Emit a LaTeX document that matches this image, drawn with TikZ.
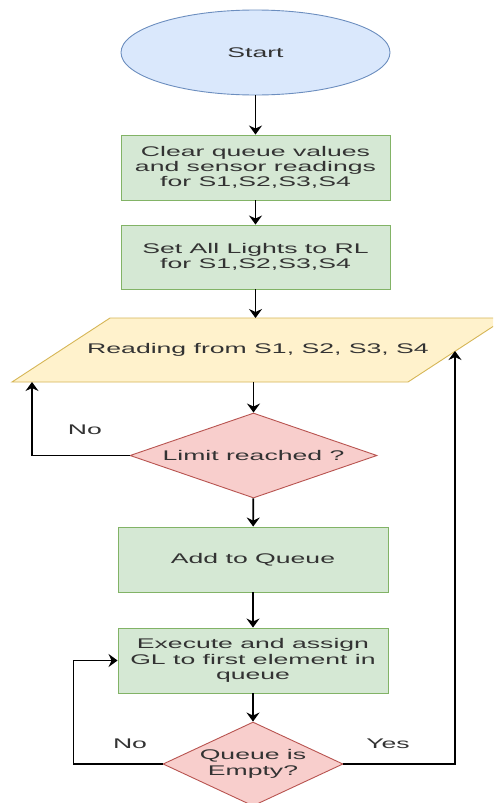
\documentclass[tikz,border=0pt]{standalone}
\usepackage{fontspec}
\setmainfont{Liberation Sans}[FakeStretch=1.9]
\usetikzlibrary{shapes.geometric,arrows.meta}
\definecolor{bluef}{HTML}{DAE8FC}
\definecolor{blued}{HTML}{6C8EBF}
\definecolor{greenf}{HTML}{D5E8D4}
\definecolor{greend}{HTML}{82B366}
\definecolor{yellowf}{HTML}{FFF2CC}
\definecolor{yellowd}{HTML}{D6B656}
\definecolor{redf}{HTML}{F8CECC}
\definecolor{redd}{HTML}{B85450}
\definecolor{txt}{HTML}{333333}
\begin{document}
\begin{tikzpicture}[x=1pt,y=-1pt,
  every node/.style={font=\fontsize{14}{15.3}\selectfont, text=txt, align=center, inner sep=0pt},
  startbox/.style={ellipse, draw=blued, fill=bluef, line width=0.9pt, minimum width=269pt, minimum height=85pt},
  procbox/.style={rectangle, draw=greend, fill=greenf, line width=0.9pt, minimum width=269pt, minimum height=65pt},
  decbox/.style={diamond, draw=redd, fill=redf, line width=0.9pt},
  conn/.style={draw=black, line width=1.6pt, -{Stealth[length=9pt,width=13pt,inset=3pt]}},
  lbl/.style={text=txt}]
\useasboundingbox (0,0) rectangle (493,803);
\fill[white] (0,0) rectangle (493,803);

\node[startbox] (start) at (255.5,52.5) {Start};
\node[procbox] (clear) at (255.5,167.5) {Clear queue values\\and sensor readings\\for S1,S2,S3,S4};
\node[procbox, minimum height=64pt] (lights) at (255.5,257) {Set All Lights to RL\\for S1,S2,S3,S4};

\begin{scope}
  \clip (0,0) rectangle (493,803);
  \draw[yellowd, fill=yellowf, line width=0.9pt] (110,318) -- (506,318) -- (408,382) -- (12,382) -- cycle;
\end{scope}
\node (read) at (258,350) {Reading from S1, S2, S3, S4};
\coordinate (readtop) at (255.5,318);
\coordinate (readbot) at (253.5,382);
\coordinate (readbl) at (32,382);
\coordinate (readr) at (455,351);

\node[decbox, aspect=2.9, minimum width=247pt, minimum height=85pt] (limit) at (253.5,455.5) {Limit reached ?};
\node[procbox, minimum width=270pt] (addq) at (253,559.5) {Add to Queue};
\node[procbox, minimum width=270pt] (exec) at (253,660.5) {Execute and assign\\GL to first element in\\queue};
\node[decbox, aspect=2.14, minimum width=180pt, minimum height=84pt] (empty) at (253,764) {Queue is\\Empty?};

\draw[conn] (start) -- (clear);
\draw[conn] (clear) -- (lights);
\draw[conn] (lights.south) -- (readtop);
\draw[conn] (readbot) -- (limit.north);
\draw[conn] (limit.west) -| (readbl);
\draw[conn] (limit) -- (addq);
\draw[conn] (addq) -- (exec);
\draw[conn] (exec) -- (empty);
\draw[conn] (empty.west) -| ([xshift=-44pt]exec.west) -- (exec.west);
\draw[conn] (empty.east) -| (readr);

\node[lbl] (no1) at (85,430) {No};
\node[lbl] (no2) at (130,744) {No};
\node[lbl] (yes) at (388,744) {Yes};
\end{tikzpicture}
\end{document}
